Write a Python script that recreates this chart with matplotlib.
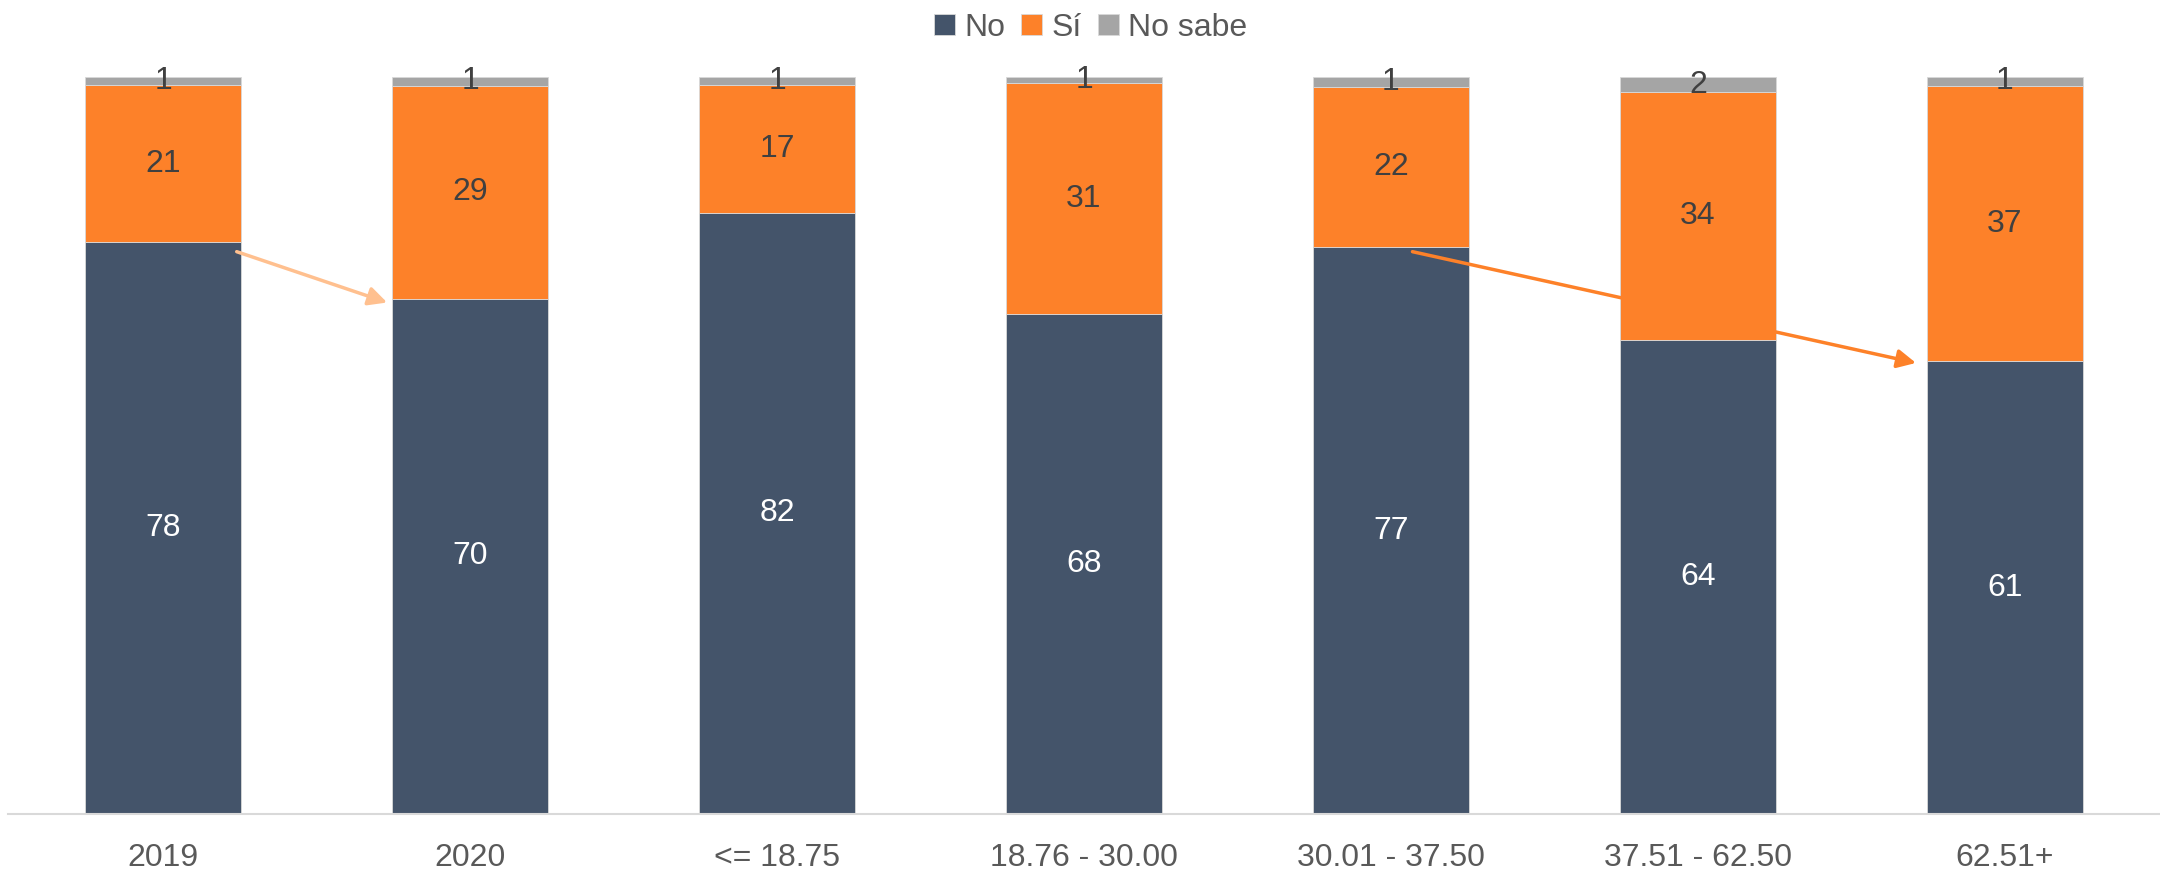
import numpy as np
import matplotlib.pyplot as plt

# datos (porcentajes)
categorias = ['2019', '2020', '<= 18.75', '18.76 - 30.00', '30.01 - 37.50', '37.51 - 62.50', '62.51+']
no = [77.55, 69.9, 81.6, 67.8, 76.9, 64.3, 61.4]
si = [21.4, 28.9, 17.3, 31.4, 21.7, 33.7, 37.4]
no_sabe = [1.05, 1.2, 1.1, 0.8, 1.4, 1.96, 1.2]

# colores
c_no = '#44546A'
c_si = '#FD8129'
c_ns = '#A5A5A5'
c_txt = '#404040'

plt.rcParams['font.family'] = ['Liberation Sans', 'DejaVu Sans']
fs = 23

fig = plt.figure(figsize=(21.6, 8.72), dpi=100)
ax = fig.add_axes([8 / 2160, 58 / 872, 2152 / 2160, 737 / 872])

x = np.arange(len(categorias))
no = np.array(no)
si = np.array(si)
no_sabe = np.array(no_sabe)
ancho = 0.51

b1 = ax.bar(x, no, ancho, color=c_no, edgecolor='#d9d9d9', linewidth=0.6, label='No')
b2 = ax.bar(x, si, ancho, bottom=no, color=c_si, edgecolor='#d9d9d9', linewidth=0.6, label='Sí')
b3 = ax.bar(x, no_sabe, ancho, bottom=no + si, color=c_ns, edgecolor='#d9d9d9', linewidth=0.6, label='No sabe')

ax.bar_label(b1, fmt='%.0f', label_type='center', color='white', fontsize=fs)
ax.bar_label(b2, fmt='%.0f', label_type='center', color=c_txt, fontsize=fs)
ax.bar_label(b3, fmt='%.0f', label_type='center', color=c_txt, fontsize=fs)

# flechas
ax.annotate('', xy=(1 - 0.27, no[1] - 0.5), xytext=(0 + 0.24, no[0] - 1.25),
            arrowprops=dict(arrowstyle='-|>', color='#FFC08F', lw=2.5, mutation_scale=28,
                            shrinkA=0, shrinkB=0))
ax.annotate('', xy=(6 - 0.29, no[6] - 0.2), xytext=(4 + 0.07, no[4] - 0.6),
            arrowprops=dict(arrowstyle='-|>', color=c_si, lw=2.5, mutation_scale=28,
                            shrinkA=0, shrinkB=0))

ax.set_xlim(-0.505, 6.505)
ax.set_ylim(0, 100)
ax.set_xticks(x)
ax.set_xticklabels(categorias, fontsize=fs, color='#595959')
ax.tick_params(axis='x', length=0, pad=21)
ax.set_yticks([])
for s in ['top', 'right', 'left']:
    ax.spines[s].set_visible(False)
ax.spines['bottom'].set_color('#d9d9d9')
ax.spines['bottom'].set_linewidth(1.5)

fig.legend(handles=[b1, b2, b3], loc='upper center', bbox_to_anchor=(0.505, 1.018), ncol=3,
           frameon=False, fontsize=fs, labelcolor='#595959', handlelength=0.65, handleheight=0.65,
           handletextpad=0.3, columnspacing=0.5)

fig.savefig('out.png', dpi=100)
